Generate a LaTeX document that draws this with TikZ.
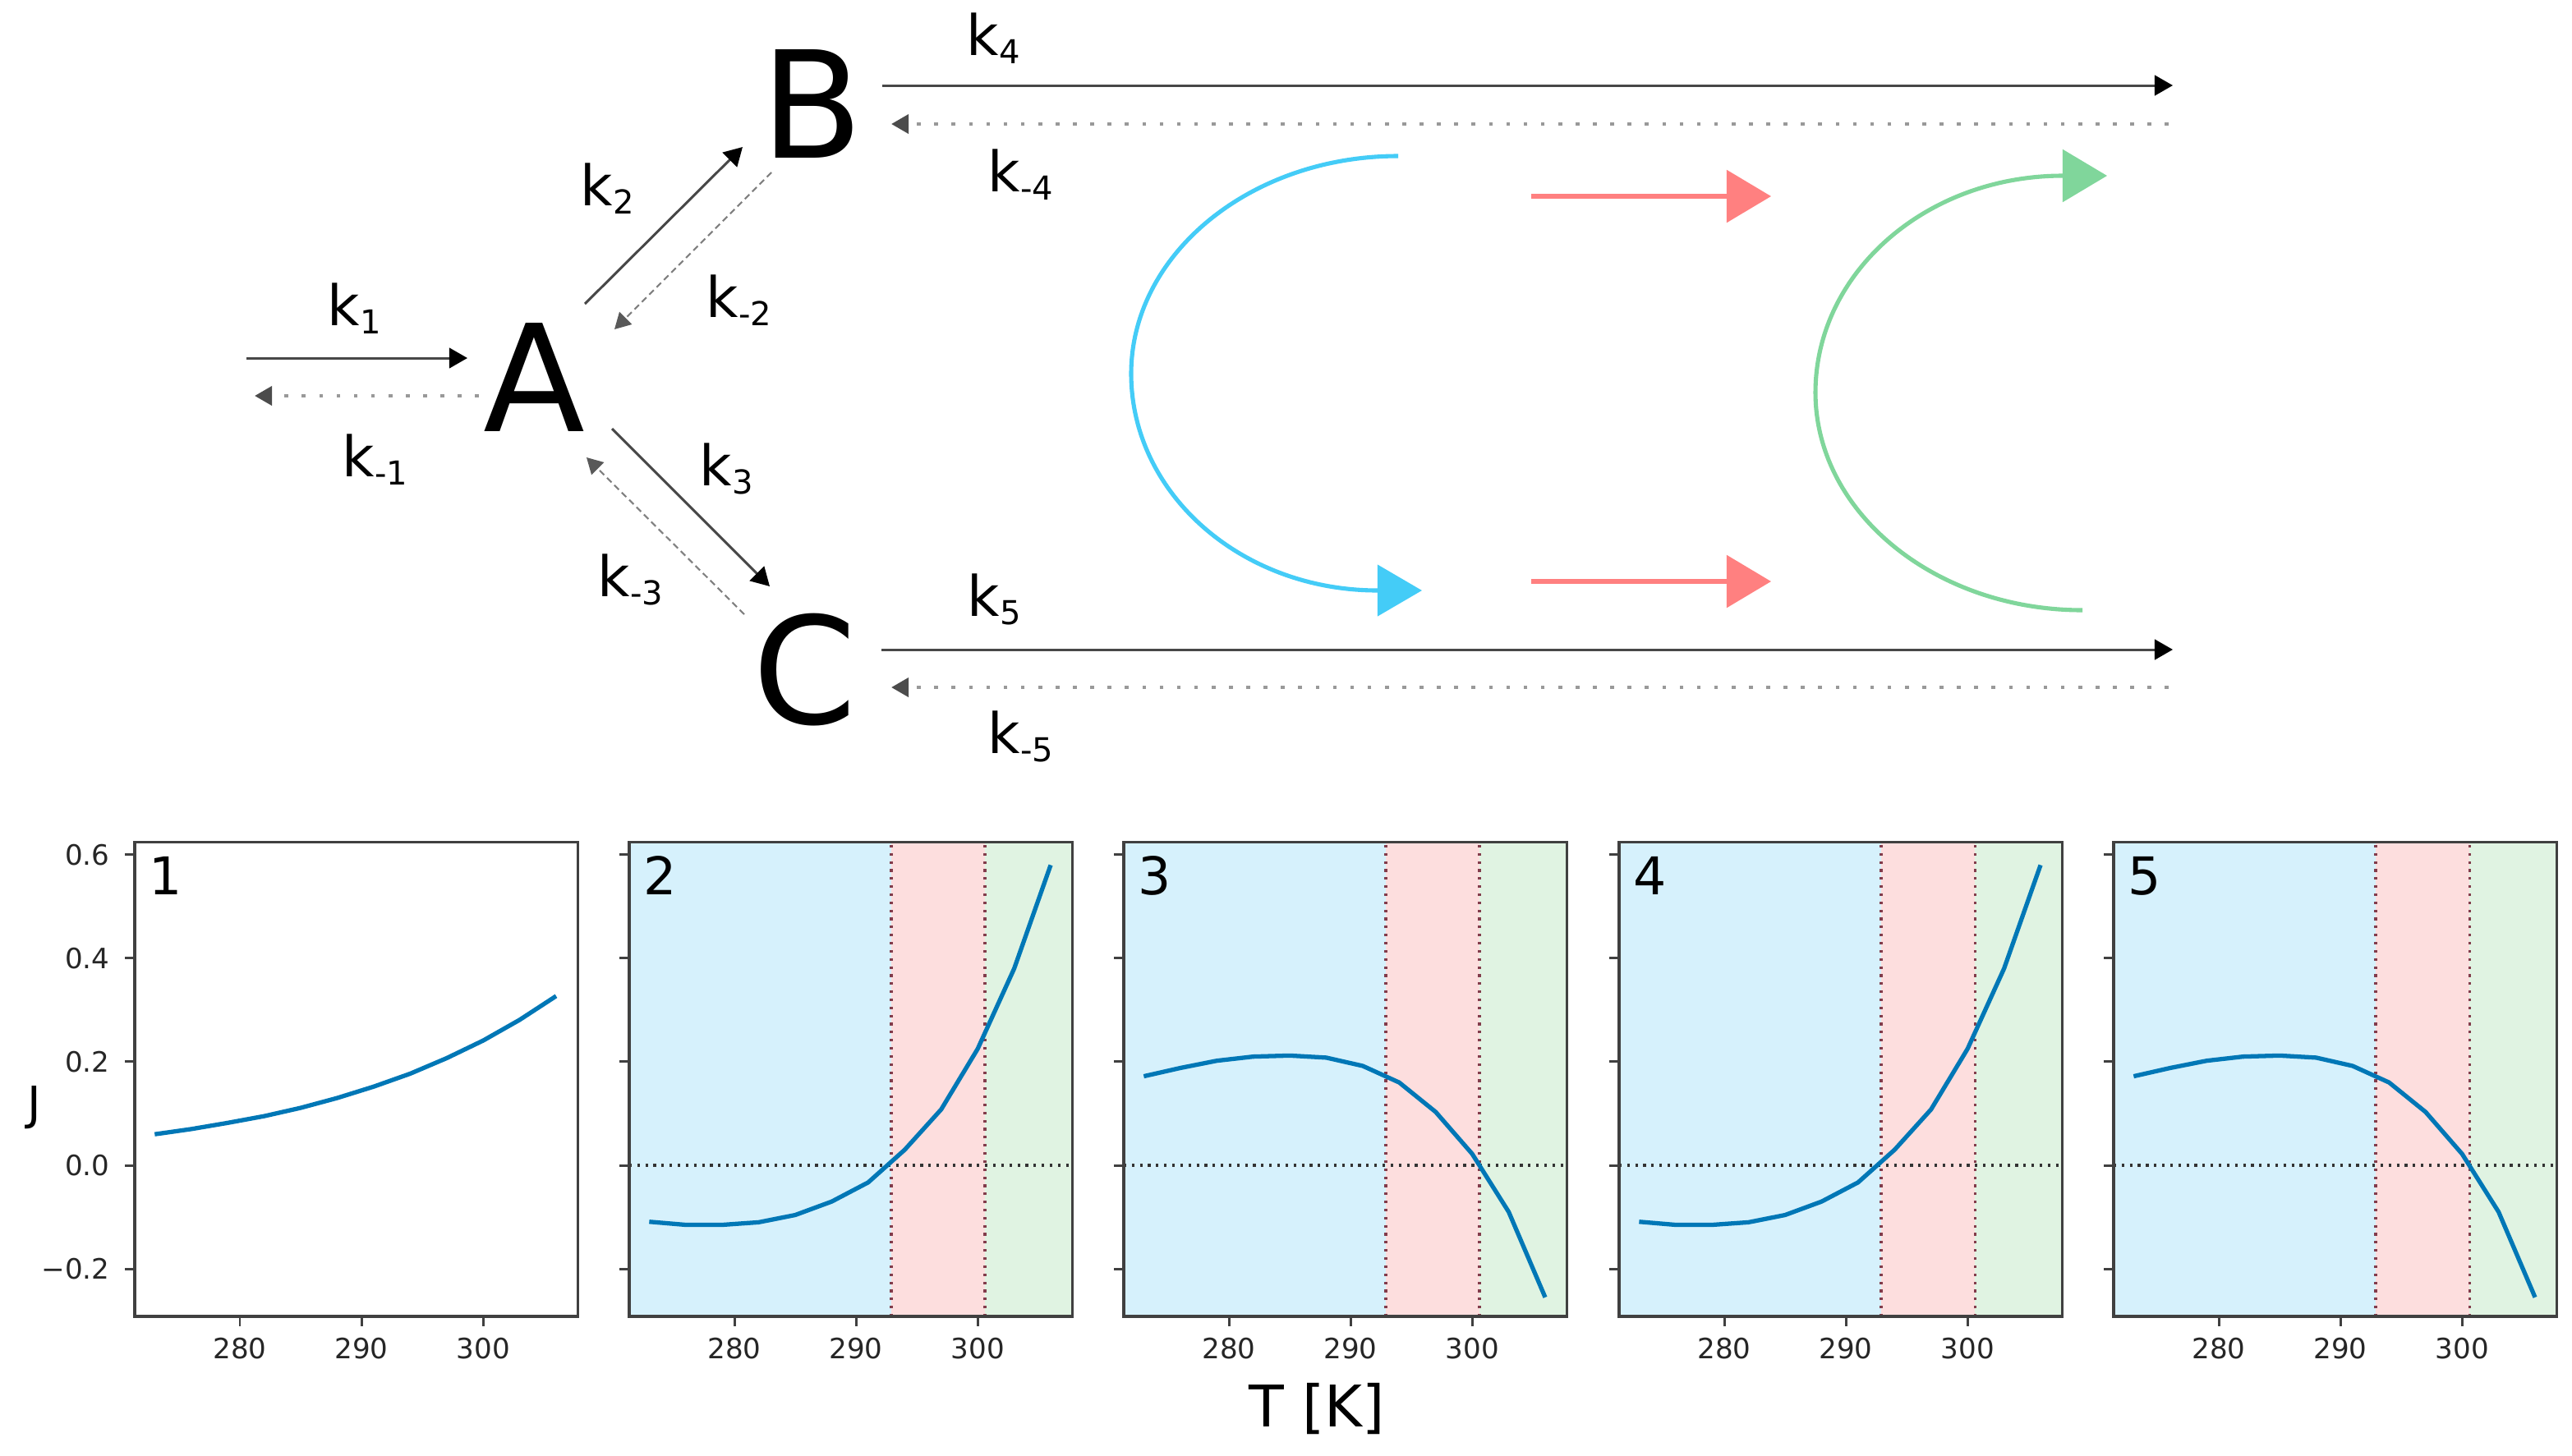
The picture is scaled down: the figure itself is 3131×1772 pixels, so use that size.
\documentclass[tikz,border=0pt]{standalone}
\usepackage{fontspec}
\setmainfont{DejaVu Sans}
\usetikzlibrary{arrows.meta}
\definecolor{cblue}{RGB}{68,204,247}
\definecolor{cred}{RGB}{255,128,128}
\definecolor{cgreen}{RGB}{128,214,155}
\definecolor{fblue}{RGB}{214,241,252}
\definecolor{fred}{RGB}{253,222,222}
\definecolor{fgreen}{RGB}{224,243,226}
\definecolor{curvec}{RGB}{0,119,182}
\definecolor{vline}{RGB}{130,60,75}
\newcommand\kk[1]{k\raisebox{-3.1pt}{\fontsize{11.4pt}{12pt}\selectfont #1}}
\newcommand\curveone{\draw[curve] (-7,0.060) -- (-4,0.070) -- (-1,0.082) -- (2,0.095) -- (5,0.111) -- (8,0.130) -- (11,0.152) -- (14,0.177) -- (17,0.207) -- (20,0.241) -- (23,0.281) -- (26,0.327);}
\newcommand\curvetwo{\draw[curve] (-7,-0.109) -- (-4,-0.115) -- (-1,-0.115) -- (2,-0.110) -- (5,-0.096) -- (8,-0.070) -- (11,-0.033) -- (14,0.030) -- (17,0.108) -- (20,0.225) -- (23,0.380) -- (26,0.580);}
\newcommand\curvethree{\draw[curve] (-7,0.172) -- (-4,0.188) -- (-1,0.202) -- (2,0.210) -- (5,0.212) -- (8,0.208) -- (11,0.192) -- (14,0.160) -- (17,0.103) -- (20,0.022) -- (23,-0.090) -- (26,-0.255);}
\newcommand\shading{%
  \fill[fblue] (-8.65,-0.292) rectangle (12.9,0.6238);
  \fill[fred] (12.9,-0.292) rectangle (20.6,0.6238);
  \fill[fgreen] (20.6,-0.292) rectangle (27.77,0.6238);
  \draw[vdot] (12.9,-0.292) -- (12.9,0.6238);
  \draw[vdot] (20.6,-0.292) -- (20.6,0.6238);
  \draw[hdot] (-8.65,0) -- (27.77,0);
}
\newcommand\axesbox[1]{%
  \draw[frame] (-8.65,-0.292) rectangle (27.77,0.6238);
  \foreach \J in {-0.2,0,0.2,0.4,0.6} \draw[tick] (-8.65,\J) -- ++(-3.4pt,0pt);
  \foreach \T/\lab in {0/280,10/290,20/300} {%
    \draw[tick] (\T,-0.292) -- ++(0pt,-3.4pt);
    \node[ticklab, yshift=-11.1pt] (x#1-\lab) at (\T,-0.292) {\lab};}
  \node[pnum, xshift=4.8pt, yshift=-18.2pt] (n#1) at (-8.65,0.6238) {#1};
}
\begin{document}
\begin{tikzpicture}[x=0.01cm,y=-0.01cm,
  species/.style={font=\fontsize{51.5pt}{52pt}\selectfont, inner sep=0pt, anchor=base},
  klab/.style={font=\fontsize{19.35pt}{20pt}\selectfont, inner sep=0pt, anchor=base west},
  fwd/.style={draw=black!72, line width=0.85pt, -{Triangle[length=6.3pt,width=7pt,black]}},
  bdot/.style={draw=black!40, line width=1.3pt, line cap=butt, dash pattern=on 1.3pt off 4.7pt, -{Triangle[length=6pt,width=6.5pt,black!70]}},
  bdash/.style={draw=black!50, line width=0.6pt, dash pattern=on 2.2pt off 1.4pt, -{Triangle[length=5.5pt,width=6pt,black!65]}},
  bluearc/.style={draw=cblue, line width=1.45pt, -{Triangle[length=15.4pt,width=17.6pt,cblue]}},
  redarr/.style={draw=cred, line width=1.5pt, -{Triangle[length=15.4pt,width=18pt,cred]}},
  greenarc/.style={draw=cgreen, line width=1.45pt, -{Triangle[length=15.4pt,width=18pt,cgreen]}},
  frame/.style={draw=black!75, line width=0.95pt},
  tick/.style={draw=black!75, line width=0.85pt},
  ticklab/.style={font=\fontsize{9.7pt}{10pt}\selectfont, inner sep=0pt, text=black!85},
  pnum/.style={font=\fontsize{18pt}{18pt}\selectfont, inner sep=0pt, anchor=base west},
  curve/.style={draw=curvec, line width=1.5pt, line join=round},
  vdot/.style={draw=vline, line width=0.9pt, dash pattern=on 0.9pt off 1.9pt},
  hdot/.style={draw=black!80, line width=0.9pt, dash pattern=on 0.9pt off 1.9pt},
  axlab/.style={inner sep=0pt}
]
\useasboundingbox (0,0) rectangle (3131,1772);
\fill[white] (0,0) rectangle (3131,1772);

% ---------- species ----------
\node[species] (A) at (650,525) {A};
\node[species] (B) at (989,192) {B};
\node[species] (C) at (980,881) {C};

% ---------- arrow end points ----------
\coordinate (k1s) at (300,436);  \coordinate (k1e) at (569,436);
\coordinate (km1s) at (583,482); \coordinate (km1e) at (310,482);
\coordinate (k2s) at (712,370);  \coordinate (k2e) at (904,179);
\coordinate (km2s) at (939,210); \coordinate (km2e) at (748,401);
\coordinate (k3s) at (745,522);  \coordinate (k3e) at (937,714);
\coordinate (km3s) at (906,748); \coordinate (km3e) at (714,557);
\coordinate (k4s) at (1074,104); \coordinate (k4e) at (2645,104);
\coordinate (km4s) at (2640,151); \coordinate (km4e) at (1085,151);
\coordinate (k5s) at (1073,791); \coordinate (k5e) at (2645,791);
\coordinate (km5s) at (2640,837); \coordinate (km5e) at (1085,837);

\draw[fwd] (k1s) -- (k1e);
\draw[bdot] (km1s) -- (km1e);
\draw[fwd] (k2s) -- (k2e);
\draw[bdash] (km2s) -- (km2e);
\draw[fwd] (k3s) -- (k3e);
\draw[bdash] (km3s) -- (km3e);
\draw[fwd] (k4s) -- (k4e);
\draw[bdot] (km4s) -- (km4e);
\draw[fwd] (k5s) -- (k5e);
\draw[bdot] (km5s) -- (km5e);

% ---------- rate labels ----------
\node[klab] (l1) at (398,396) {\kk{1}};
\node[klab] (lm1) at (416,580) {\kk{-1}};
\node[klab] (l2) at (706,250) {\kk{2}};
\node[klab] (lm2) at (859,386) {\kk{-2}};
\node[klab] (l3) at (851,591) {\kk{3}};
\node[klab] (lm3) at (727,726) {\kk{-3}};
\node[klab] (l4) at (1176,67) {\kk{4}};
\node[klab] (lm4) at (1202,233) {\kk{-4}};
\node[klab] (l5) at (1177,750) {\kk{5}};
\node[klab] (lm5) at (1202,917) {\kk{-5}};

% ---------- coloured arrows ----------
\coordinate (bs) at (1702,190); \coordinate (bm) at (1677,719); \coordinate (be) at (1731,719);
\draw[bluearc] (bs) .. controls (1523,190) and (1377,309) .. (1377,455)
  .. controls (1377,601) and (1511,719) .. (bm) -- (be);
\coordinate (r1s) at (1864,239); \coordinate (r1e) at (2156,239);
\coordinate (r2s) at (1864,708); \coordinate (r2e) at (2156,708);
\draw[redarr] (r1s) -- (r1e);
\draw[redarr] (r2s) -- (r2e);
\coordinate (gs) at (2535,743); \coordinate (gm) at (2511,214); \coordinate (ge) at (2565,214);
\draw[greenarc] (gs) .. controls (2356,743) and (2210,624) .. (2210,478)
  .. controls (2210,332) and (2345,214) .. (gm) -- (ge);

% ---------- panels ----------
\begin{scope}[shift={(292,1419)}, x=0.148cm, y=6.3cm]
  \curveone
  \axesbox{1}
  \foreach \J/\lab/\i in {-0.2/−0.2/a, 0/0.0/b, 0.2/0.2/c, 0.4/0.4/d, 0.6/0.6/e}
    \node[ticklab, anchor=east, xshift=-8.5pt] (y1\i) at (-8.65,\J) {\lab};
\end{scope}
\begin{scope}[shift={(894,1419)}, x=0.148cm, y=6.3cm]
  \shading \curvetwo \axesbox{2}
\end{scope}
\begin{scope}[shift={(1496,1419)}, x=0.148cm, y=6.3cm]
  \shading \curvethree \axesbox{3}
\end{scope}
\begin{scope}[shift={(2099,1419)}, x=0.148cm, y=6.3cm]
  \shading \curvetwo \axesbox{4}
\end{scope}
\begin{scope}[shift={(2701,1419)}, x=0.148cm, y=6.3cm]
  \shading \curvethree \axesbox{5}
\end{scope}

\node[axlab, font=\fontsize{16pt}{16pt}\selectfont] (Jlab) at (42,1349) {J};
\node[axlab, anchor=base, font=\fontsize{19.9pt}{20pt}\selectfont] (Tlab) at (1603,1737) {T [K]};
\end{tikzpicture}
\end{document}
